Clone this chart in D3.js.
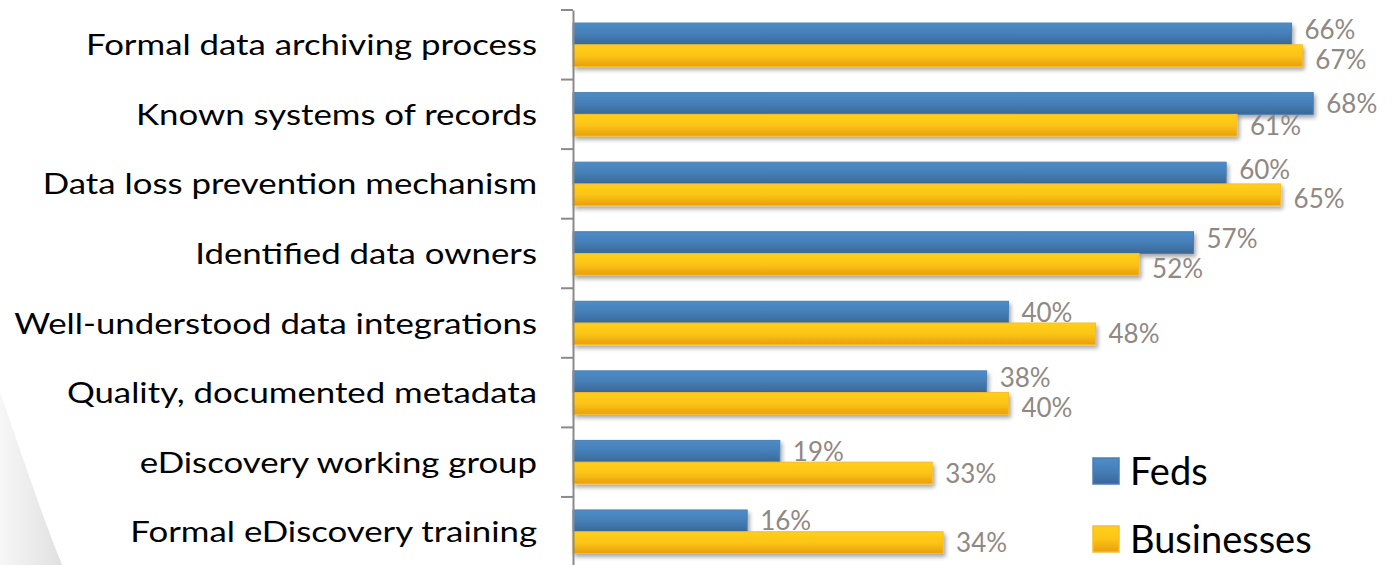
<!DOCTYPE html>
<html><head><meta charset="utf-8">
<script src="https://cdn.jsdelivr.net/npm/d3@7"></script>
<style>html,body{margin:0;padding:0;background:#fff;overflow:hidden}</style>
</head><body>
<svg id="c" width="1394" height="565"></svg>
<script>
const categories = ["Formal data archiving process","Known systems of records","Data loss prevention mechanism","Identified data owners","Well-understood data integrations","Quality, documented metadata","eDiscovery working group","Formal eDiscovery training"];
const series = ["Feds","Businesses"];
const feds = [66,68,60,57,40,38,19,16];
const businesses = [67,61,65,52,48,40,33,34];

const svg = d3.select("#c");
const defs = svg.append("defs");
const gBlue = defs.append("linearGradient").attr("id","gb").attr("x1",0).attr("y1",0).attr("x2",0).attr("y2",1);
gBlue.append("stop").attr("offset","0%").attr("stop-color","#4f8cc6");
gBlue.append("stop").attr("offset","45%").attr("stop-color","#4680ba");
gBlue.append("stop").attr("offset","100%").attr("stop-color","#3a6896");
const gYel = defs.append("linearGradient").attr("id","gy").attr("x1",0).attr("y1",0).attr("x2",0).attr("y2",1);
gYel.append("stop").attr("offset","0%").attr("stop-color","#ffcf1c");
gYel.append("stop").attr("offset","50%").attr("stop-color","#fcc414");
gYel.append("stop").attr("offset","100%").attr("stop-color","#e89f0e");
const gBg = defs.append("linearGradient").attr("id","gbg").attr("x1",0).attr("y1",0).attr("x2",1).attr("y2",0);
gBg.append("stop").attr("offset","0%").attr("stop-color","#f7f7f7");
gBg.append("stop").attr("offset","100%").attr("stop-color","#e0e0e0");
const f = defs.append("filter").attr("id","sh").attr("x","-5%").attr("y","-40%").attr("width","110%").attr("height","200%");
f.append("feGaussianBlur").attr("in","SourceAlpha").attr("stdDeviation",2.2).attr("result","b");
f.append("feOffset").attr("in","b").attr("dx",2).attr("dy",3).attr("result","o");
f.append("feComponentTransfer").attr("in","o").attr("result","o2").append("feFuncA").attr("type","linear").attr("slope",0.35);
const m = f.append("feMerge"); m.append("feMergeNode").attr("in","o2"); m.append("feMergeNode").attr("in","SourceGraphic");

// background swoosh
svg.append("path").attr("d","M0,392 C20,450 40,510 62,565 L0,565 Z").attr("fill","url(#gbg)");

const x = d3.scaleLinear().domain([0,70]).range([573,1335]);
const y0 = d3.scaleBand().domain(categories).range([10,566.5]).padding(0);
const y1 = d3.scaleBand().domain(series).range([0,y0.bandwidth()]).paddingInner(0).paddingOuter(0.6);

const data = categories.map((c,i)=>({c, vals:[{s:"Feds",v:feds[i]},{s:"Businesses",v:businesses[i]}]}));
const fills = {Feds:"url(#gb)",Businesses:"url(#gy)"};
const strokes = {Feds:"#4a7fb5",Businesses:"#f7bd2a"};

const g = svg.append("g");
const grp = g.selectAll("g.cat").data(data).join("g").attr("class","cat").attr("transform",d=>`translate(0,${y0(d.c)})`);
grp.selectAll("rect").data(d=>d.vals).join("rect")
  .attr("x",x(0)).attr("y",d=>y1(d.s)).attr("width",d=>x(d.v)-x(0)).attr("height",y1.bandwidth())
  .attr("fill",d=>fills[d.s]).attr("stroke",d=>strokes[d.s]).attr("stroke-width",1).attr("filter","url(#sh)");
// labels: nudge apart when the two labels of a group sit close horizontally
grp.selectAll("text.lbl").data(d=>{
    const close = Math.abs(d.vals[0].v - d.vals[1].v) < 6;
    return d.vals.map((e,j)=>Object.assign({}, e, {nudge: close ? (j===0?-4:4) : 0}));
  }).join("text").attr("class","lbl")
  .attr("x",d=>x(d.v)+13).attr("y",d=>y1(d.s)+y1.bandwidth()/2+9.5+d.nudge)
  .attr("font-family","Lato, 'Open Sans', sans-serif").attr("font-size",26).attr("fill","#8f8883")
  .text(d=>d.v+"%");

// axis
const axis = d3.axisLeft(y0).tickSize(0).tickFormat("");
const ax = svg.append("g").attr("transform",`translate(${x(0)},0)`).call(axis);
ax.select(".domain").attr("stroke","#8a8a8a").attr("stroke-width",2);
const bounds = categories.map(c=>y0(c)).concat([y0(categories[categories.length-1])+y0.step()]);
ax.selectAll("line.tk").data(bounds).join("line").attr("class","tk")
  .attr("x1",-12).attr("x2",0).attr("y1",d=>d).attr("y2",d=>d).attr("stroke","#8a8a8a").attr("stroke-width",2);

// category labels (horizontally stretched like the reference)
svg.append("g").selectAll("text").data(categories).join("text")
  .attr("transform",d=>`translate(537,${y0(d)+y0.bandwidth()/2+10.5}) scale(1.2,1)`)
  .attr("text-anchor","end").attr("font-family","Lato, 'Open Sans', sans-serif").attr("font-size",29).attr("fill","#000")
  .text(d=>d);

// legend
const lg = svg.append("g").selectAll("g").data(series).join("g").attr("transform",(d,i)=>`translate(1093,${458+i*68})`);
lg.append("rect").attr("width",26).attr("height",26).attr("fill",d=>fills[d]).attr("stroke",d=>strokes[d]).attr("stroke-width",1.5);
lg.append("text").attr("x",37).attr("y",26.5).attr("font-family","Lato, 'Open Sans', sans-serif").attr("font-size",38).attr("fill","#000").text(d=>d);
</script>
</body></html>
